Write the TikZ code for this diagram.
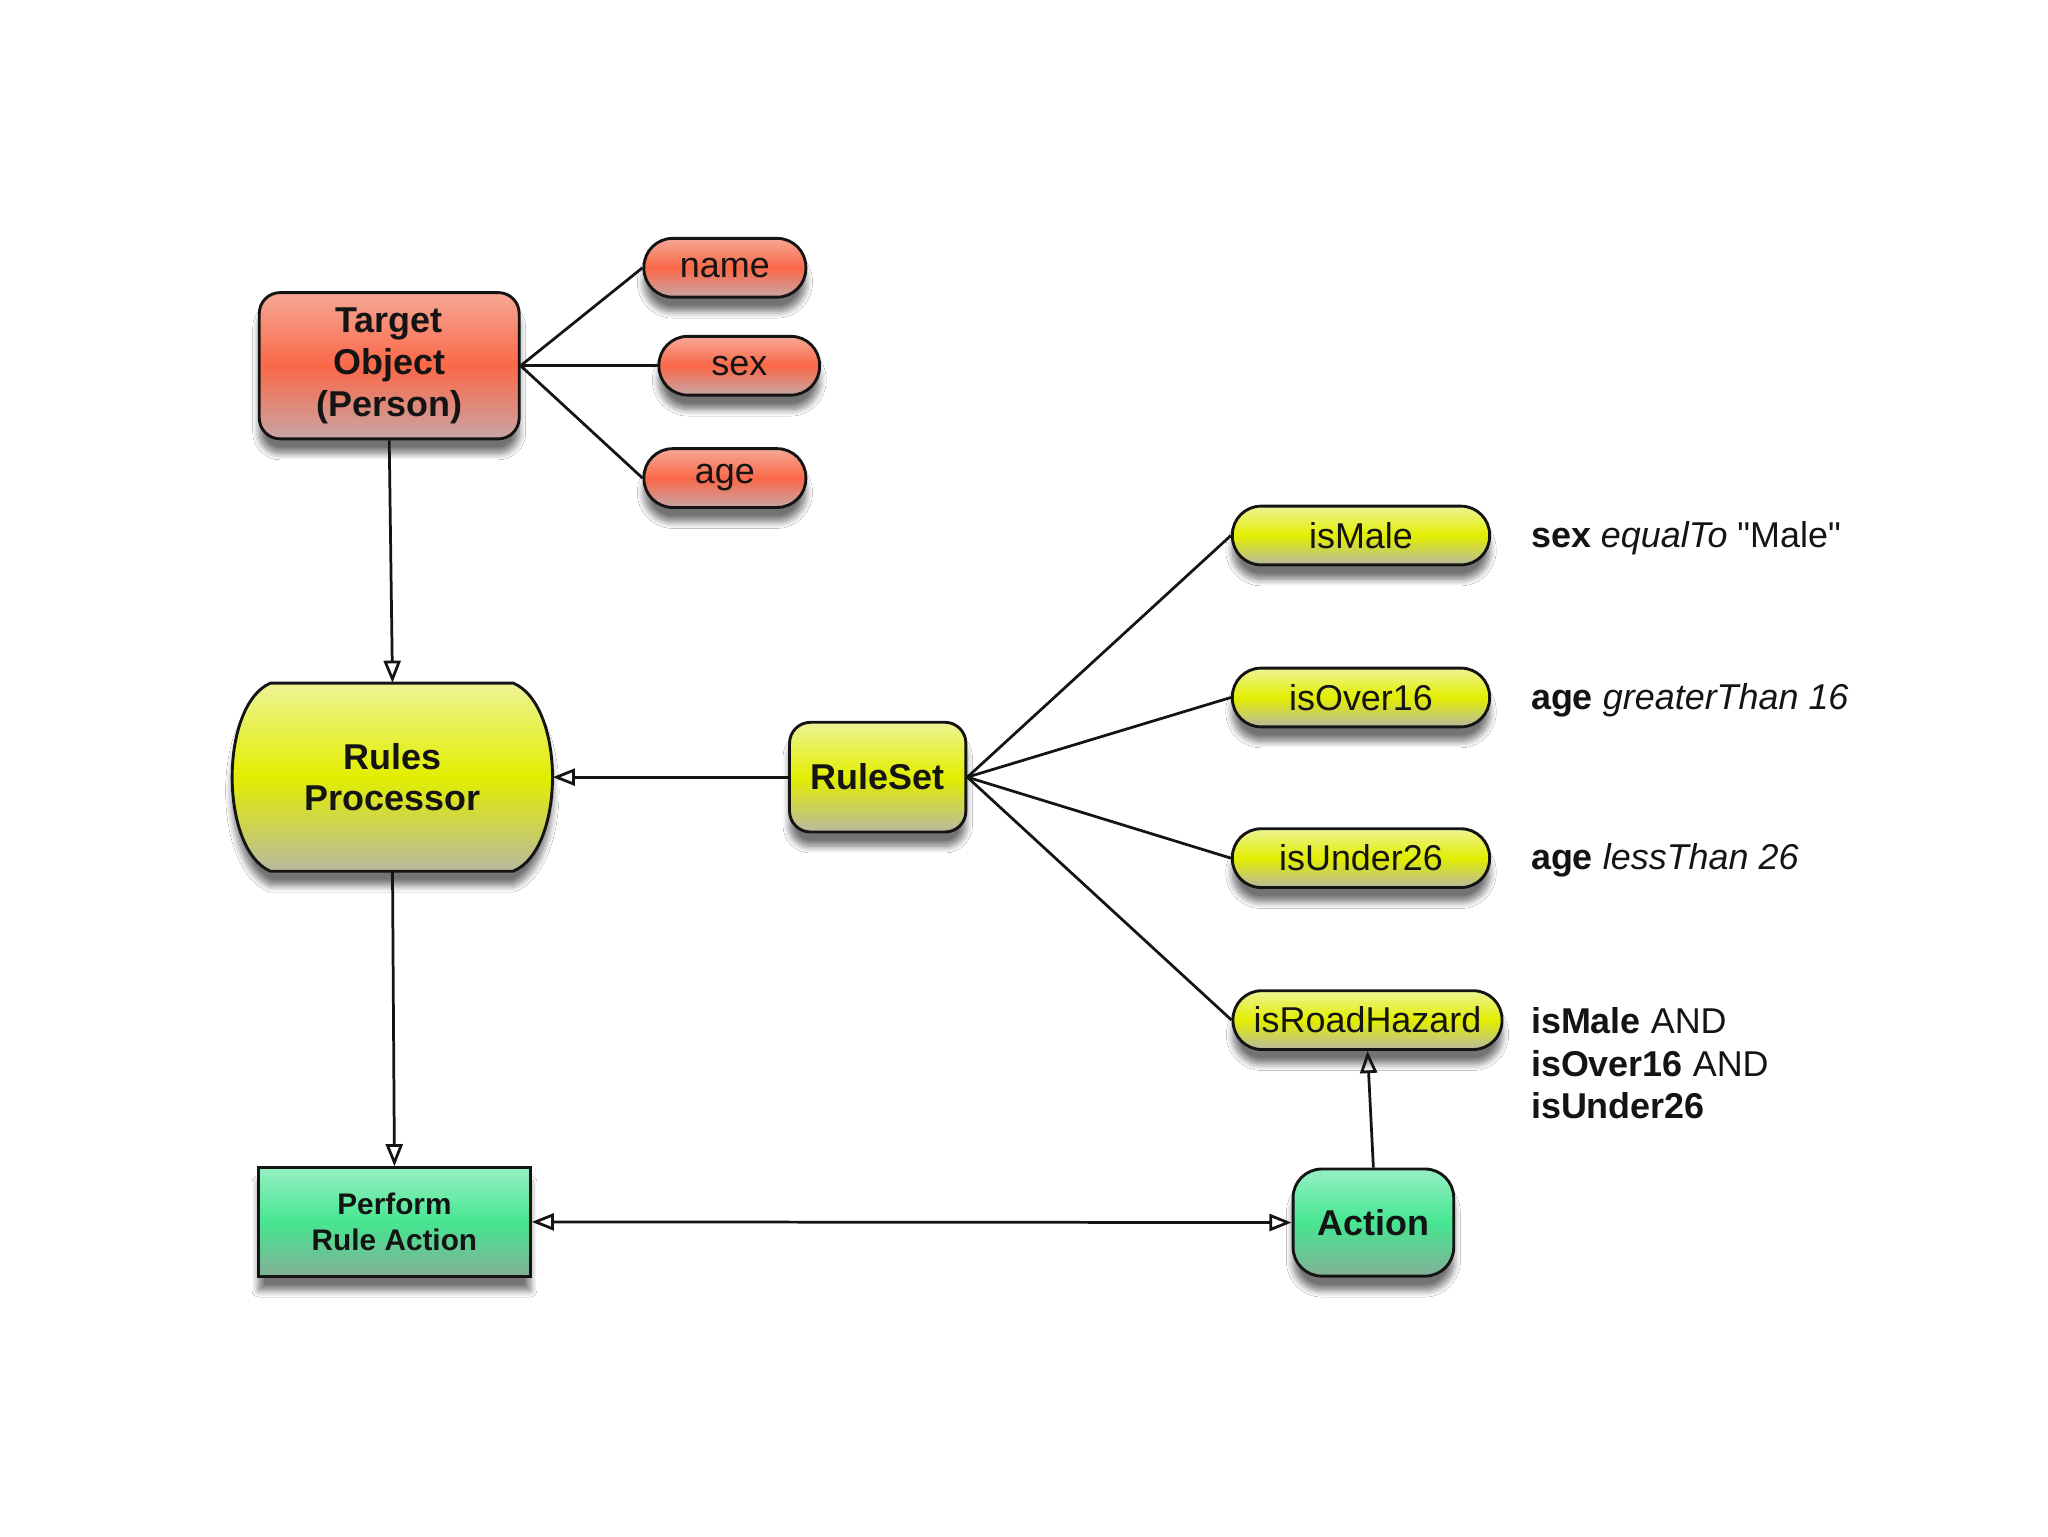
\documentclass[tikz,border=0pt]{standalone}
\usepackage{fontspec}
\setmainfont{Liberation Sans}[Ligatures=TeXOff]
\usetikzlibrary{arrows.meta,shadows,shadows.blur}
\definecolor{salT}{RGB}{246,168,150}
\definecolor{salM}{RGB}{250,104,72}
\definecolor{salB}{RGB}{200,165,165}
\definecolor{yelT}{RGB}{238,244,150}
\definecolor{yelM}{RGB}{226,238,0}
\definecolor{yelB}{RGB}{185,185,160}
\definecolor{grnT}{RGB}{150,240,195}
\definecolor{grnM}{RGB}{70,230,145}
\definecolor{grnB}{RGB}{130,175,150}
\definecolor{ink}{RGB}{20,20,20}
\begin{document}
\begin{tikzpicture}[x=1pt,y=-1pt,
  box/.style={draw=ink, line width=2.2pt, text=ink, align=center, inner sep=0pt,
    blur shadow={shadow xshift=0pt, shadow yshift=-11pt, shadow blur radius=5pt, shadow blur steps=10, shadow opacity=55}},
  salmon/.style={top color=salT, bottom color=salB, middle color=salM},
  yellowish/.style={top color=yelT, bottom color=yelB, middle color=yelM},
  greenish/.style={top color=grnT, bottom color=grnB, middle color=grnM},
  pill/.style={box, rounded corners=22pt, minimum height=45pt, font=\fontsize{27.5}{30}\selectfont},
  bigtxt/.style={font=\bfseries\fontsize{27.5}{32}\selectfont},
  lbl/.style={anchor=west, inner sep=0pt, text=ink, align=left, font=\fontsize{27.5}{32.5}\selectfont},
  conn/.style={draw=ink, line width=2.1pt},
  tip/.style={-{Triangle[open, length=17pt, width=13pt]}}
]
\useasboundingbox (0,0) rectangle (1568,1176);
\fill[white] (0,0) rectangle (1568,1176);

% Rules processor barrel
\path[box, yellowish] (207,523) -- (393,523) .. controls (433,540) and (433,650) .. (393,667)
  -- (207,667) .. controls (168,650) and (168,540) .. (207,523) -- cycle;
\node[minimum width=245pt, minimum height=144pt, inner sep=0pt, bigtxt, align=center, text=ink] (rp) at (300.5,595) {Rules\\Processor};

% nodes
\node[box, salmon, bigtxt, rounded corners=16pt, minimum width=199pt, minimum height=112pt] (target) at (298,280) {Target\\Object\\(Person)};
\node[pill, salmon, minimum width=124pt] (name) at (555,205) {name};
\node[pill, salmon, minimum width=123pt] (sex) at (566,280) {sex};
\node[pill, salmon, minimum width=124pt] (age) at (555,366) {age};

\node[box, yellowish, bigtxt, rounded corners=16pt, minimum width=135pt, minimum height=84pt] (ruleset) at (672,595) {RuleSet};

\node[pill, yellowish, minimum width=197pt] (ismale) at (1042,410) {isMale};
\node[pill, yellowish, minimum width=197pt] (isover) at (1042,534) {isOver16};
\node[pill, yellowish, minimum width=197pt] (isunder) at (1042,657) {isUnder26};
\node[pill, yellowish, minimum width=206pt] (hazard) at (1047,781) {isRoadHazard};

\node[box, greenish, font=\bfseries\fontsize{22.8}{28}\selectfont, minimum width=208pt, minimum height=83pt] (perform) at (302,935.5) {Perform\\Rule Action};
\node[box, greenish, font=\bfseries\fontsize{27.5}{32}\selectfont, rounded corners=22pt, minimum width=123pt, minimum height=82pt] (action) at (1051.5,936) {Action};

% labels
\node[lbl] (l1) at (1172,412) {\textbf{sex} \textit{equalTo} "Male"};
\node[lbl] (l2) at (1172,536) {\textbf{age} \textit{greaterThan 16}};
\node[lbl] (l3) at (1172,659) {\textbf{age} \textit{lessThan 26}};
\node[lbl] (l4) at (1172,814) {\textbf{isMale} AND\\\textbf{isOver16} AND\\\textbf{isUnder26}};

% connectors
\draw[conn] (target.east) -- (name.west);
\draw[conn] (target.east) -- (sex.west);
\draw[conn] (target.east) -- (age.west);
\draw[conn] (ruleset.east) -- (ismale.west);
\draw[conn] (ruleset.east) -- (isover.west);
\draw[conn] (ruleset.east) -- (isunder.west);
\draw[conn] (ruleset.east) -- (hazard.west);
\draw[conn, tip] (target.south) -- (rp.north);
\draw[conn, tip] (ruleset.west) -- (rp.east);
\draw[conn, tip] (rp.south) -- (perform.north);
\draw[conn, {Triangle[open, length=17pt, width=13pt]}-{Triangle[open, length=17pt, width=13pt]}] (perform.east) -- (action.west);
\draw[conn, tip] (action.north) -- (hazard.south);
\end{tikzpicture}
\end{document}
